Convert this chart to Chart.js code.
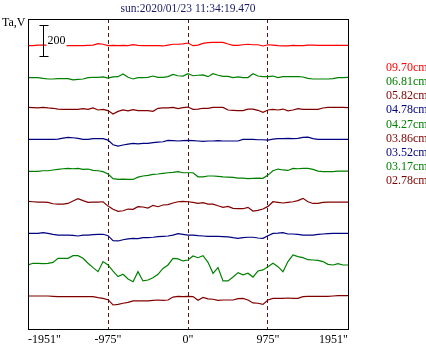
<!DOCTYPE html>
<html>
<head>
<meta charset="utf-8">
<script src="https://cdn.jsdelivr.net/npm/chart.js@4.4.1/dist/chart.umd.min.js"></script>
<style>
  body { margin: 0; background: #fff; }
  #wrap { width: 426px; height: 347px; }
</style>
</head>
<body>
<div id="wrap"><canvas id="canvas" width="426" height="347"></canvas></div>
<script>
// scan positions across the disk, arcsec
var arcsec = [-1951, -1890, -1829, -1768, -1707, -1646, -1585, -1524, -1463, -1402, -1341, -1280, -1219, -1158, -1097, -1036,
  -975, -914, -853, -792, -731, -670, -610, -549, -488, -427, -366, -305, -244, -183, -122, -61,
  0, 61, 122, 183, 244, 305, 366, 427, 488, 549, 610, 670, 731, 792, 853, 914,
  975, 1036, 1097, 1158, 1219, 1280, 1341, 1402, 1463, 1524, 1585, 1646, 1707, 1768, 1829, 1890, 1951];
var xTicks = [-1951, -975, 0, 975, 1951];

var bands = ["09.70cm", "06.81cm", "05.82cm", "04.78cm", "04.27cm", "03.86cm", "03.52cm", "03.17cm", "02.78cm"];
var colors = ["#ff0000", "#008000", "#800000", "#000080", "#008000", "#800000", "#000080", "#008000", "#800000"];
// each trace is shifted up by its own offset so they stack
var offsets = [1800, 1600, 1400, 1200, 1000, 800, 600, 400, 200];

// antenna temperature, Ta
var ta970 = [28,28,32,32,32,32,32,28,28,28,28,28,30,32,41,37,28,30,28,30,28,34,30,28,28,28,28,26,32,37,37,39,45,
  28,32,43,47,49,49,49,39,30,30,34,37,34,34,26,34,32,28,26,26,30,28,28,32,32,30,30,30,30,30,30,30];
var ta681 = [22,22,22,17,13,13,15,15,15,7,11,13,22,24,24,26,19,26,28,45,24,13,22,22,24,32,24,24,28,43,34,32,47,
  34,37,39,28,47,37,30,30,22,26,22,22,47,32,28,28,32,22,28,28,28,28,26,17,13,13,13,13,15,22,22,24];
var ta582 = [30,28,26,30,26,24,19,17,17,17,17,22,17,26,13,17,9,-13,4,13,7,15,9,9,9,4,24,26,26,30,22,28,32,
  17,19,24,24,30,30,30,13,11,9,9,19,19,11,-2,13,17,13,19,7,13,22,17,17,17,17,26,30,30,30,30,28];
var ta478 = [23,23,23,23,23,23,25,32,36,34,30,23,23,28,28,28,19,-11,-20,-13,-7,-3,-5,-3,-3,2,6,8,17,15,13,15,17,
  15,13,10,13,13,15,13,13,13,13,23,23,23,21,21,19,25,28,28,30,28,30,36,38,28,23,23,23,23,23,23,23];
var ta427 = [17,17,17,21,21,26,30,34,36,34,36,30,32,23,21,15,0,-30,-35,-33,-35,-35,-20,-13,-9,-2,0,4,8,10,15,8,8,
  8,-18,-18,-13,-13,-15,-18,-20,-22,-26,-26,-30,-28,-26,-28,-7,21,32,26,23,36,34,36,36,30,19,15,15,15,19,19,19];
var ta386 = [23,21,19,19,17,8,6,6,10,26,41,28,17,19,19,21,-7,-28,-41,-37,-26,-28,-11,-13,-20,-2,-11,0,2,13,21,23,21,
  17,10,15,6,6,-5,-15,-9,-22,-24,-24,-15,-39,-35,-26,-9,21,17,13,17,21,28,43,21,10,10,17,19,19,19,19,19];
var ta352 = [17,17,17,22,17,11,6,6,6,4,0,6,6,9,11,11,2,-30,-32,-24,-19,-15,-17,-11,-11,-8,-4,-2,0,6,15,11,6,
  6,2,0,-2,-2,-2,-4,-6,-11,-15,-11,-8,-8,-13,-15,2,17,19,22,13,13,11,6,6,6,11,13,15,17,17,17,17];
var ta317 = [13,24,24,22,24,30,56,56,56,73,73,56,24,-4,-30,35,13,-26,-62,-47,-77,-95,-30,-90,-84,-69,-47,-9,13,56,52,39,45,
  71,60,73,30,-41,-4,-90,-90,-64,-36,-50,-40,-65,-26,-19,2,24,2,-30,35,78,67,60,47,45,43,35,17,13,22,13,13];
var ta278 = [13,13,13,13,13,11,9,9,9,9,9,9,9,9,2,-2,-11,-45,-41,-34,-28,-19,-19,-19,-19,-15,-13,-15,-13,6,11,9,11,
  9,-15,4,-6,-8,-15,-13,-13,-13,-4,-2,-13,-32,-34,-41,-13,-2,-2,-2,0,-2,-2,9,11,11,11,11,11,13,15,15,15];

var traces = [ta970, ta681, ta582, ta478, ta427, ta386, ta352, ta317, ta278];

var serif = "'Liberation Serif', 'DejaVu Serif', serif";

var datasets = traces.map(function(vals, i){
  return {
    label: bands[i],
    data: vals.map(function(v){ return v + offsets[i]; }),
    borderColor: colors[i],
    borderWidth: 1.2,
    pointRadius: 0,
    tension: 0,
    fill: false
  };
});

// frame, scale bar, axis caption and the band list on the right
var decor = {
  id: 'decor',
  afterDatasetsDraw: function(chart){
    var ctx = chart.ctx;
    var xs = chart.scales.x, ys = chart.scales.y;
    var bx = Math.round(xs.getPixelForValue(-1768)) + 0.5;
    var y1 = Math.round(ys.getPixelForValue(1960)) + 0.5;
    var y2 = Math.round(ys.getPixelForValue(1760)) + 0.5;
    ctx.save();
    ctx.font = "12px " + serif;
    ctx.textBaseline = 'middle';
    ctx.fillStyle = '#fff';
    ctx.fillRect(bx + 3, (y1 + y2) / 2 - 7, 20, 14);
    ctx.fillStyle = '#000';
    ctx.fillText('200', bx + 4, (y1 + y2) / 2);
    ctx.strokeStyle = '#000';
    ctx.lineWidth = 1;
    ctx.beginPath();
    ctx.moveTo(bx, y1); ctx.lineTo(bx, y2);
    ctx.moveTo(bx - 4, y1); ctx.lineTo(bx + 5, y1);
    ctx.moveTo(bx - 4, y2); ctx.lineTo(bx + 5, y2);
    ctx.stroke();
    ctx.restore();
  },
  afterDraw: function(chart){
    var ctx = chart.ctx, a = chart.chartArea;
    ctx.save();
    ctx.strokeStyle = '#000';
    ctx.lineWidth = 1;
    ctx.strokeRect(Math.round(a.left) + 0.5, Math.round(a.top) + 0.5,
      Math.round(a.right - a.left), Math.round(a.bottom - a.top));
    ctx.font = "12px " + serif;
    ctx.textBaseline = 'middle';
    ctx.fillStyle = '#000';
    ctx.fillText('Ta,V', 2, 23);
    bands.forEach(function(b, i){
      ctx.fillStyle = colors[i];
      ctx.fillText(b, 386, 68 + i * 14.1);
    });
    ctx.restore();
  }
};

new Chart(document.getElementById('canvas'), {
  type: 'line',
  data: { labels: arcsec, datasets: datasets },
  plugins: [decor],
  options: {
    responsive: false,
    animation: false,
    layout: { padding: { left: 28, right: 78, top: 0, bottom: 0 } },
    plugins: {
      legend: { display: false },
      tooltip: { enabled: false },
      title: {
        display: true,
        fullSize: false,
        text: 'sun:2020/01/23 11:34:19.470',
        color: '#1a1a66',
        font: { family: serif, size: 11.5, weight: 'normal' },
        padding: { top: 2, bottom: 3.2 }
      }
    },
    scales: {
      x: {
        type: 'linear',
        min: -1951,
        max: 1951,
        afterBuildTicks: function(axis){
          axis.ticks = xTicks.map(function(v){ return { value: v }; });
        },
        afterFit: function(axis){ axis.height = 18; },
        grid: {
          drawTicks: false,
          color: function(c){
            var v = c.tick ? c.tick.value : null;
            return (v === -1951 || v === 1951) ? 'rgba(0,0,0,0)' : '#5a1414';
          },
          lineWidth: 1
        },
        border: { display: false, dash: [4, 3] },
        ticks: {
          align: 'inner',
          padding: 3.6,
          color: '#000',
          font: { family: serif, size: 12 },
          maxRotation: 0,
          callback: function(v){ return v + '"'; }
        }
      },
      y: {
        display: false,
        min: 0,
        max: 2000
      }
    }
  }
});
</script>
</body>
</html>
